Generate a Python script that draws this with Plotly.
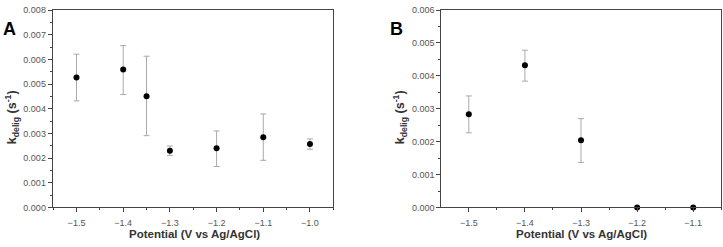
import plotly.graph_objects as go

# Panel A data
pot_a = [-1.5, -1.4, -1.35, -1.3, -1.2, -1.1, -1.0]
k_a = [0.00527, 0.00559, 0.00451, 0.00230, 0.00240, 0.00285, 0.00257]
err_a_plus = [0.00094, 0.00097, 0.00162, 0.00019, 0.00070, 0.00094, 0.00021]
err_a_minus = [0.00095, 0.00101, 0.00160, 0.00019, 0.00074, 0.00094, 0.00021]

# Panel B data
pot_b = [-1.5, -1.4, -1.3, -1.2, -1.1]
k_b = [0.00283, 0.00432, 0.00204, 0.0, 0.0]
err_b_plus = [0.00056, 0.00046, 0.00066, 0.0, 0.0]
err_b_minus = [0.00056, 0.00048, 0.00067, 0.0, 0.0]

FONT = "Liberation Sans, Arial, sans-serif"
AXC = "#444444"
TICKC = "#555555"

fig = go.Figure()
fig.add_trace(go.Scatter(
    x=pot_a, y=k_a, mode="markers",
    marker=dict(color="black", size=6),
    error_y=dict(type="data", symmetric=False, array=err_a_plus, arrayminus=err_a_minus,
                 color="#aaaaaa", thickness=1, width=3),
    xaxis="x", yaxis="y", showlegend=False, cliponaxis=False))
fig.add_trace(go.Scatter(
    x=pot_b, y=k_b, mode="markers",
    marker=dict(color="black", size=6),
    error_y=dict(type="data", symmetric=False, array=err_b_plus, arrayminus=err_b_minus,
                 color="#aaaaaa", thickness=1, width=3),
    xaxis="x2", yaxis="y2", showlegend=False, cliponaxis=False))

common_x = dict(showgrid=False, zeroline=False, showline=True, linecolor=AXC, linewidth=1,
                mirror=True, ticks="outside", ticklen=4, tickcolor=AXC, dtick=0.1,
                tickformat=".1f", tickfont=dict(family=FONT, size=9, color=TICKC),
                ticklabelstandoff=3,
                minor=dict(ticks="outside", ticklen=2, dtick=0.05, tickcolor=AXC))
common_y = dict(showgrid=False, zeroline=False, showline=True, linecolor=AXC, linewidth=1,
                mirror=True, ticks="outside", ticklen=4, tickcolor=AXC, dtick=0.001,
                tickformat=".3f", tickfont=dict(family=FONT, size=9, color=TICKC),
                minor=dict(ticks="outside", ticklen=2, dtick=0.0005, tickcolor=AXC))

ydom = [36 / 247, 241.7 / 247]
fig.update_layout(
    width=723, height=247, margin=dict(l=0, r=0, t=0, b=0),
    paper_bgcolor="white", plot_bgcolor="white",
    xaxis=dict(domain=[52.7 / 723, 333.3 / 723], range=[-1.551, -0.95], anchor="y", **common_x),
    yaxis=dict(domain=ydom, range=[0, 0.008], anchor="x", **common_y),
    xaxis2=dict(domain=[441.3 / 723, 721.3 / 723], range=[-1.549, -1.05], anchor="y2", **common_x),
    yaxis2=dict(domain=ydom, range=[0, 0.006], anchor="x2", **common_y),
)

xtitle_font = dict(family=FONT, size=11.5, color="#333333")
ytitle_font = dict(family=FONT, size=12.5, color="#333333")
ytitle = "<b>k<sub>delig</sub> (s<sup>-1</sup>)</b>"
xtitle = "<b>Potential (V vs Ag/AgCl)</b>"
anns = [
    dict(text="<b>A</b>", x=9, y=222, font=dict(family=FONT, size=18, color="black")),
    dict(text="<b>B</b>", x=396, y=222, font=dict(family=FONT, size=18, color="black")),
    dict(text=xtitle, x=194, y=8, font=xtitle_font),
    dict(text=xtitle, x=581, y=8, font=xtitle_font),
    dict(text=ytitle, x=12, y=130, font=ytitle_font, textangle=-90),
    dict(text=ytitle, x=400, y=130, font=ytitle_font, textangle=-90),
]
for a in anns:
    fig.add_annotation(xref="paper", yref="paper", x=a["x"] / 723, y=a["y"] / 247,
                       text=a["text"], showarrow=False, font=a["font"],
                       textangle=a.get("textangle", 0), xanchor="center", yanchor="middle")

fig.write_html("out.html")
